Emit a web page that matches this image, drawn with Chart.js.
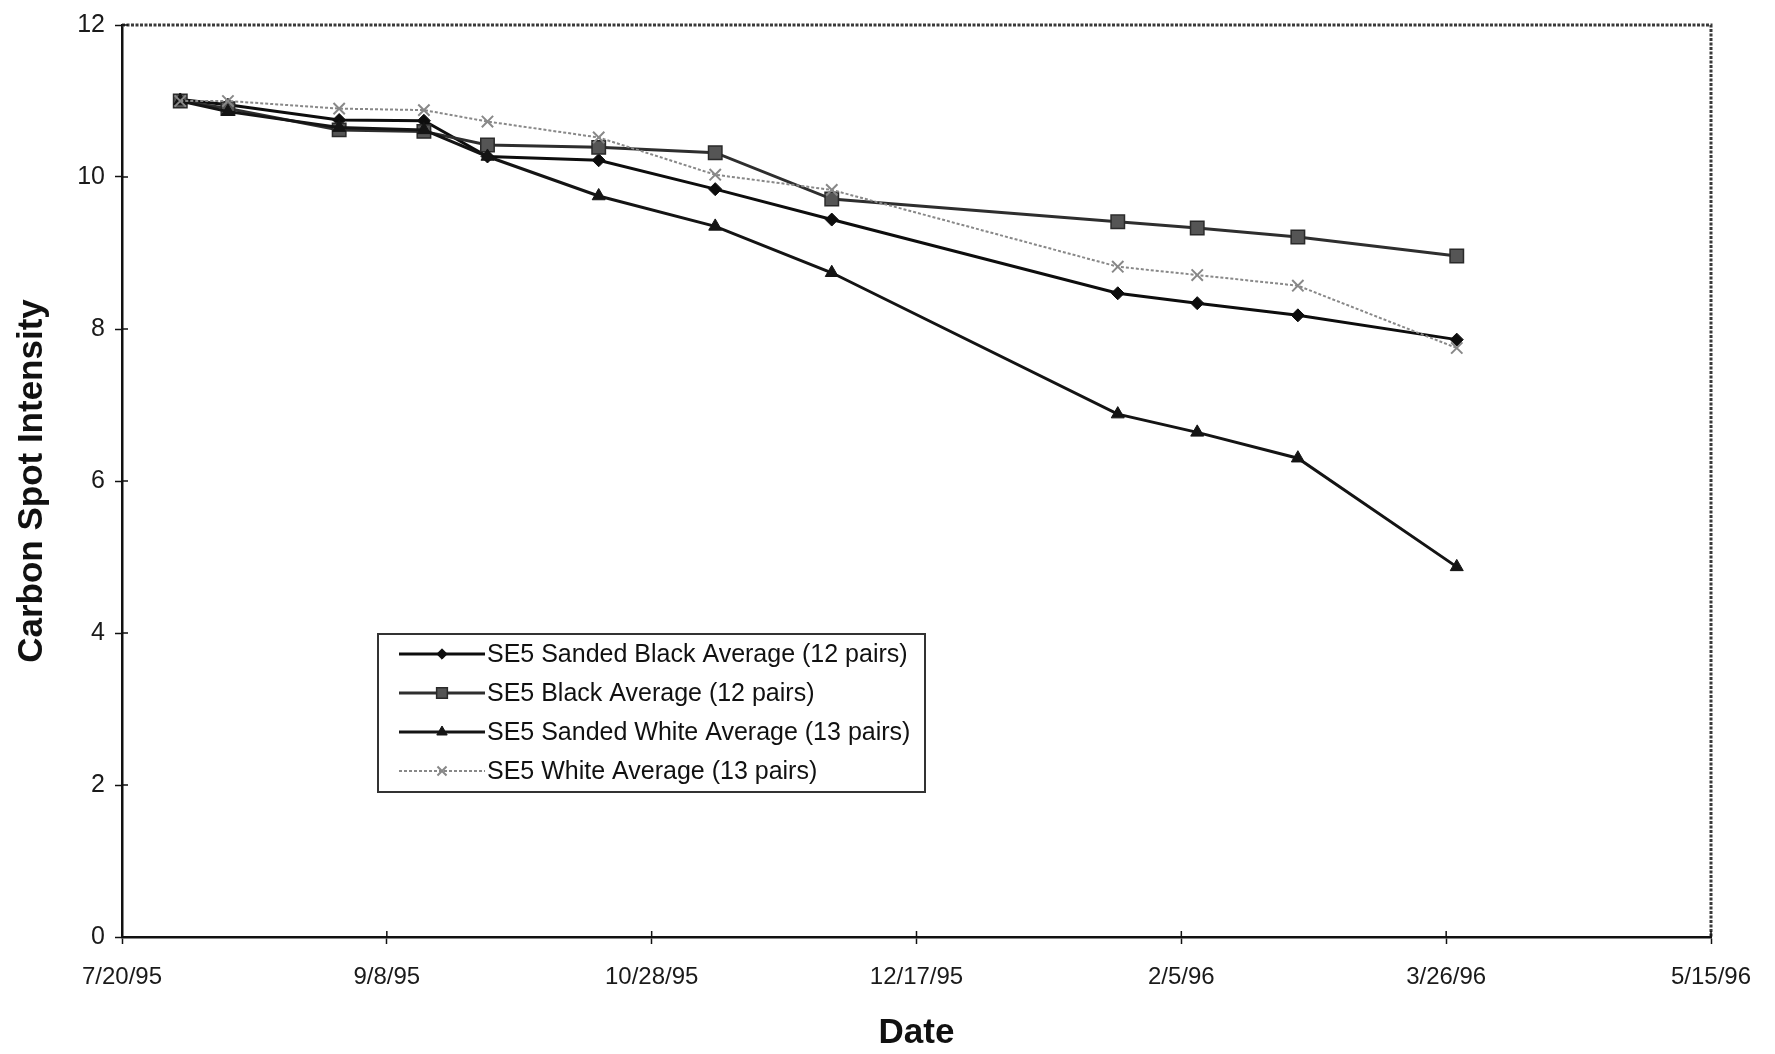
<!DOCTYPE html>
<html>
<head>
<meta charset="utf-8">
<title>Carbon Spot Intensity</title>
<script src="https://cdn.jsdelivr.net/npm/chart.js@4.4.1/dist/chart.umd.min.js"></script>
<style>
  html, body { margin: 0; padding: 0; background: #fff; }
</style>
</head>
<body>
<canvas id="myChart" width="1775" height="1054"></canvas>
<script>
// measurement dates and averages per series
var dates = ['7/31/95', '8/9/95', '8/30/95', '9/15/95', '9/27/95', '10/18/95',
             '11/9/95', '12/1/95', '1/24/96', '2/8/96', '2/27/96', '3/28/96'];
var sandedBlack = [11.02, 10.95, 10.75, 10.74, 10.27, 10.22, 9.84, 9.44, 8.47, 8.34, 8.18, 7.86];
var blackAvg    = [11.0, 10.9, 10.62, 10.6, 10.42, 10.39, 10.32, 9.71, 9.41, 9.33, 9.21, 8.96];
var sandedWhite = [11.0, 10.86, 10.65, 10.62, 10.27, 9.75, 9.35, 8.74, 6.88, 6.64, 6.30, 4.87];
var whiteAvg    = [11.0, 11.0, 10.9, 10.88, 10.73, 10.52, 10.03, 9.83, 8.82, 8.71, 8.57, 7.75];
var seriesNames = ['SE5 Sanded Black Average (12 pairs)', 'SE5 Black Average (12 pairs)',
                   'SE5 Sanded White Average (13 pairs)', 'SE5 White Average (13 pairs)'];
var xTickLabels = ['7/20/95', '9/8/95', '10/28/95', '12/17/95', '2/5/96', '3/26/96', '5/15/96'];
var yTicks = [0, 2, 4, 6, 8, 10, 12];

var FONT = "'Liberation Sans', Arial, sans-serif";

function dayOf(s) {
  var p = s.split('/');
  return Date.UTC(1900 + Number(p[2]), Number(p[0]) - 1, Number(p[1])) / 86400000;
}
var day0 = dayOf(xTickLabels[0]);
var xTickDays = xTickLabels.map(function (s) { return dayOf(s) - day0; });

function toPoints(vals) {
  return dates.map(function (d, i) { return { x: dayOf(d) - day0, y: vals[i] }; });
}

var datasets = [
  { label: seriesNames[0], data: toPoints(sandedBlack), borderColor: '#0d0d0d', backgroundColor: '#0d0d0d',
    pointBorderColor: '#0d0d0d', borderWidth: 3, pointStyle: 'rectRot', pointRadius: 6.5, pointBorderWidth: 1, order: 4 },
  { label: seriesNames[1], data: toPoints(blackAvg), borderColor: '#2e2e2e', backgroundColor: '#555',
    pointBorderColor: '#2a2a2a', borderWidth: 3, pointStyle: 'rect', pointRadius: 9.5, pointBorderWidth: 1.5, order: 3 },
  { label: seriesNames[2], data: toPoints(sandedWhite), borderColor: '#141414', backgroundColor: '#141414',
    pointBorderColor: '#141414', borderWidth: 3, pointStyle: 'triangle', pointRadius: 7.5, pointBorderWidth: 1, order: 2 },
  { label: seriesNames[3], data: toPoints(whiteAvg), borderColor: '#888', backgroundColor: '#888',
    pointBorderColor: '#888', borderWidth: 2, borderDash: [3, 2], pointStyle: 'crossRot', pointRadius: 8, pointBorderWidth: 2, order: 1 }
];

// plot frame (dotted top/right), inner half of the tick marks, and the boxed legend
var frame = {
  id: 'frame',
  beforeDatasetsDraw: function (chart) {
    var ctx = chart.ctx, a = chart.chartArea;
    ctx.save();
    ctx.strokeStyle = '#3a3a3a';
    ctx.lineWidth = 3;
    ctx.setLineDash([3, 1.5]);
    ctx.beginPath();
    ctx.moveTo(a.left, a.top);
    ctx.lineTo(a.right, a.top);
    ctx.lineTo(a.right, a.bottom);
    ctx.stroke();
    ctx.setLineDash([]);
    ctx.strokeStyle = '#111';
    ctx.lineWidth = 1.5;
    var xs = chart.scales.x, ys = chart.scales.y;
    ctx.beginPath();
    xTickDays.forEach(function (v) {
      var px = xs.getPixelForValue(v);
      ctx.moveTo(px, a.bottom);
      ctx.lineTo(px, a.bottom - 6);
    });
    yTicks.forEach(function (v) {
      var py = ys.getPixelForValue(v);
      ctx.moveTo(a.left, py);
      ctx.lineTo(a.left + 6, py);
    });
    ctx.stroke();
    ctx.restore();
  },
  afterDraw: function (chart) {
    var ctx = chart.ctx;
    var box = { left: 378, top: 634, right: 925, bottom: 792 };
    ctx.save();
    ctx.fillStyle = '#fff';
    ctx.fillRect(box.left, box.top, box.right - box.left, box.bottom - box.top);
    ctx.strokeStyle = '#333';
    ctx.lineWidth = 2;
    ctx.strokeRect(box.left, box.top, box.right - box.left, box.bottom - box.top);
    chart.data.datasets.forEach(function (ds, i) {
      var y = 654 + i * 39;
      ctx.strokeStyle = ds.borderColor;
      ctx.lineWidth = ds.borderWidth;
      ctx.setLineDash(ds.borderDash || []);
      ctx.beginPath();
      ctx.moveTo(399, y);
      ctx.lineTo(485, y);
      ctx.stroke();
      ctx.setLineDash([]);
      ctx.fillStyle = ds.backgroundColor;
      ctx.strokeStyle = ds.pointBorderColor;
      ctx.lineWidth = ds.pointBorderWidth;
      Chart.helpers.drawPoint(ctx, {
        pointStyle: ds.pointStyle, radius: ds.pointRadius * 0.8, rotation: 0, borderWidth: ds.pointBorderWidth
      }, 442, y);
      ctx.fillStyle = '#111';
      ctx.font = '25px ' + FONT;
      ctx.textBaseline = 'middle';
      ctx.textAlign = 'left';
      ctx.fillText(ds.label, 487, y + 1);
    });
    ctx.restore();
  }
};

var ctx = document.getElementById('myChart').getContext('2d');
var myChart = new Chart(ctx, {
  type: 'line',
  data: { datasets: datasets },
  plugins: [frame],
  options: {
    responsive: false,
    animation: false,
    elements: { line: { tension: 0, fill: false } },
    layout: { padding: { left: 0, top: 25, right: 64, bottom: 0 } },
    plugins: { legend: { display: false }, tooltip: { enabled: false } },
    scales: {
      x: {
        type: 'linear',
        min: xTickDays[0],
        max: xTickDays[xTickDays.length - 1],
        afterBuildTicks: function (scale) {
          scale.ticks = xTickDays.map(function (v) { return { value: v }; });
        },
        afterFit: function (scale) { scale.height = 117; },
        ticks: {
          autoSkip: false,
          maxRotation: 0,
          padding: 19,
          color: '#1a1a1a',
          font: { family: FONT, size: 24 },
          callback: function (v) { return xTickLabels[xTickDays.indexOf(v)]; }
        },
        grid: { drawOnChartArea: false, tickLength: 7, tickColor: '#111', tickWidth: 1.5 },
        border: { color: '#111', width: 2.5 },
        title: {
          display: true, text: 'Date', color: '#111',
          font: { family: FONT, size: 35, weight: 'bold' },
          padding: { top: 0, bottom: 0 }
        }
      },
      y: {
        min: 0,
        max: 12,
        afterBuildTicks: function (scale) {
          scale.ticks = yTicks.map(function (v) { return { value: v }; });
        },
        afterFit: function (scale) { scale.width = 122; },
        ticks: {
          padding: 10,
          color: '#1a1a1a',
          font: { family: FONT, size: 25 }
        },
        grid: { drawOnChartArea: false, tickLength: 7, tickColor: '#111', tickWidth: 1.5 },
        border: { color: '#111', width: 2.5 },
        title: {
          display: true, text: 'Carbon Spot Intensity', color: '#111',
          font: { family: FONT, size: 35, weight: 'bold' },
          padding: { top: 11, bottom: 0 }
        }
      }
    }
  }
});
</script>
</body>
</html>
